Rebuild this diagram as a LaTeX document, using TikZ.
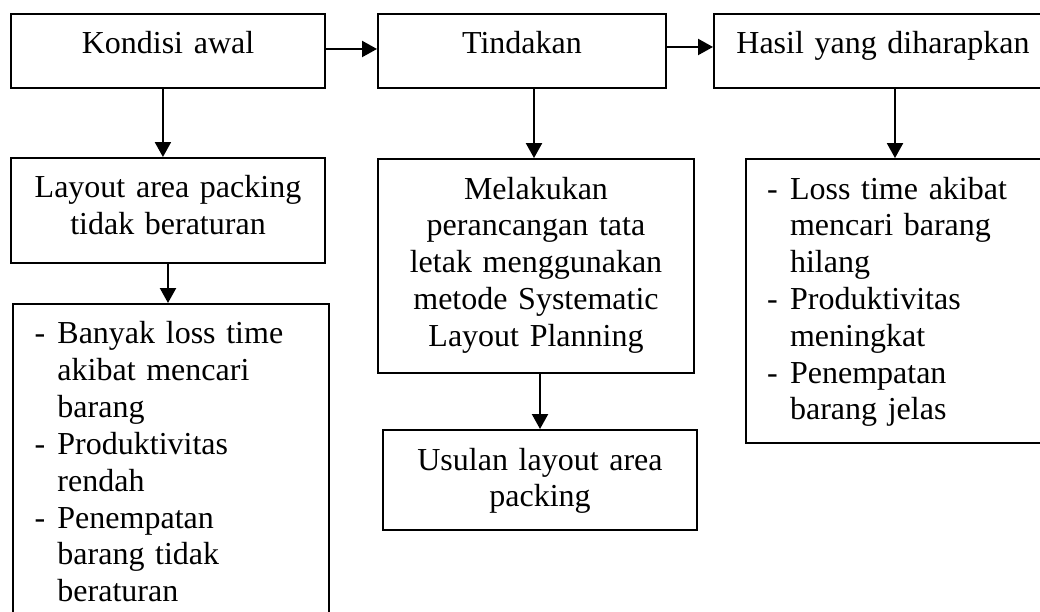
\documentclass[tikz,border=0pt]{standalone}
\usepackage{fontspec}
\setmainfont{Liberation Serif}
\usepackage{tikz}
\usetikzlibrary{positioning,arrows.meta}
\newcommand{\butir}{\makebox[8.6pt][l]{-}}
\newcommand{\lanjut}{\hspace*{8.6pt}}

\begin{document}
\begin{tikzpicture}[
    box/.style={rectangle, draw, line width=0.75pt, inner xsep=0pt, inner ysep=0pt, text height=15pt, align=center, font=\fontsize{12pt}{13.8pt}\selectfont},
    listbox/.style={box, inner xsep=7.9pt, align=left},
    arrow/.style={-{Triangle[length=5.6pt,width=6pt]}, line width=0.75pt}
]
\useasboundingbox (0,0) rectangle (390pt,-229.5pt);
\clip (0,0) rectangle (390pt,-229.5pt);

\node[box, text width=117.75pt, text depth=12.75pt] (kondisi) at (63pt,-19.125pt) {Kondisi awal};
\node[box, text width=108pt, text depth=12.75pt, right=19.125pt of kondisi] (tindakan) {Tindakan};
\node[box, text width=126.75pt, text depth=12.75pt, right=17.25pt of tindakan] (hasil) {Hasil yang diharapkan};

\node[box, text width=118.1pt, text depth=24.4pt, below=25.5pt of kondisi] (layout) {Layout area packing\\tidak beraturan};
\node[listbox, text width=102.7pt, text depth=104.25pt, below=14.6pt of layout, xshift=1.3pt] (masalah) {\butir Banyak loss time\\ \lanjut akibat mencari\\ \lanjut barang\\ \butir Produktivitas\\ \lanjut rendah\\ \butir Penempatan\\ \lanjut barang tidak\\ \lanjut beraturan};

\node[box, text width=118.5pt, text depth=65.25pt, below=25.9pt of tindakan, xshift=5.25pt] (melakukan) {Melakukan\\perancangan tata\\letak menggunakan\\metode Systematic\\Layout Planning};
\node[box, text width=117.75pt, text depth=22.5pt, below=20.6pt of melakukan, xshift=1.5pt] (usulan) {Usulan layout area\\packing};

\node[listbox, text width=102.7pt, text depth=91.5pt, below=25.9pt of hasil, xshift=7.9pt] (harapan) {\butir Loss time akibat\\ \lanjut mencari barang\\ \lanjut hilang\\ \butir Produktivitas\\ \lanjut meningkat\\ \butir Penempatan\\ \lanjut barang jelas};

\draw[arrow] ([yshift=0.75pt]kondisi.east) -- ([yshift=0.75pt]tindakan.west);
\draw[arrow] ([yshift=1.5pt]tindakan.east) -- ([yshift=1.5pt]hasil.west);
\draw[arrow] ([xshift=-1.9pt]kondisi.south) -- ([xshift=-1.9pt]kondisi.south |- layout.north);
\draw[arrow] (layout.south) -- (layout.south |- masalah.north);
\draw[arrow] ([xshift=-0.75pt]melakukan.north |- tindakan.south) -- ([xshift=-0.75pt]melakukan.north);
\draw[arrow] (usulan.north |- melakukan.south) -- (usulan.north);
\draw[arrow] ([xshift=-3.4pt]harapan.north |- hasil.south) -- ([xshift=-3.4pt]harapan.north);
\end{tikzpicture}
\end{document}
